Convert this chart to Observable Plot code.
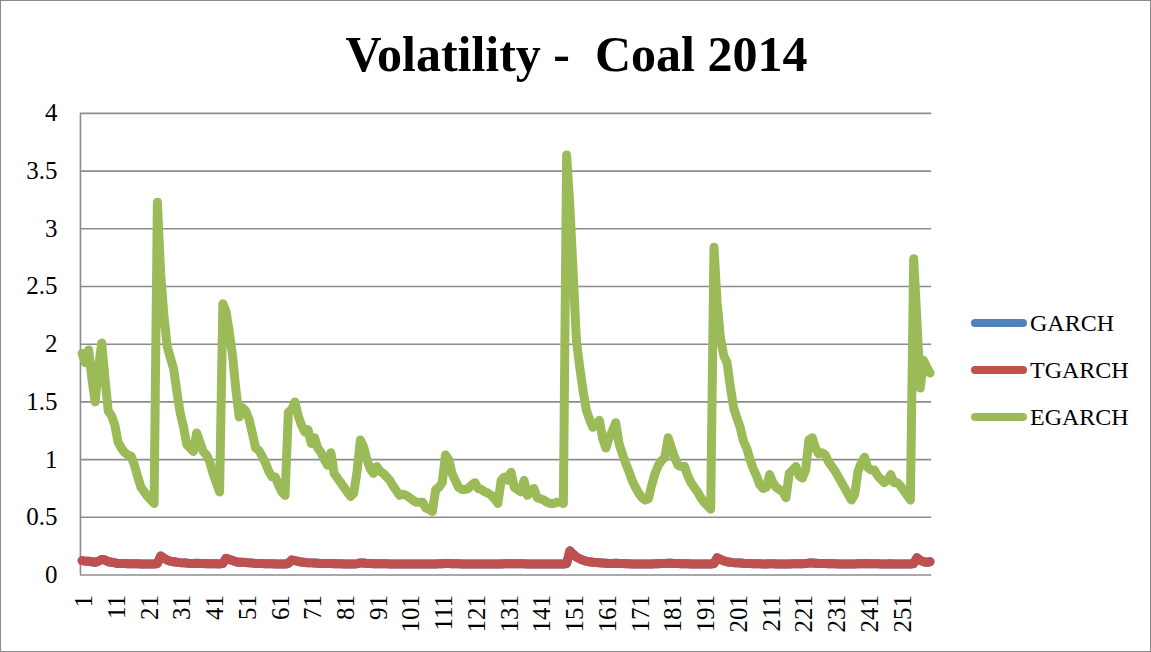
<!DOCTYPE html>
<html>
<head>
<meta charset="utf-8">
<script src="https://cdn.jsdelivr.net/npm/d3@7"></script>
<script src="https://cdn.jsdelivr.net/npm/@observablehq/plot@0.6"></script>
<style>
  html, body { margin: 0; padding: 0; background: #fff; }
  #chart { position: relative; width: 1151px; height: 652px; box-sizing: border-box; border: 1px solid #8a8a8a; overflow: hidden; font-family: "Liberation Serif", serif; }
  #title { position: absolute; left: 0; width: 1151px; top: 24px; text-align: center; font-weight: bold; font-size: 50px; white-space: pre; color: #000; }
  #plot { position: absolute; left: -1px; top: -1px; }
  .leg { position: absolute; left: 970px; height: 30px; display: flex; align-items: center; font-size: 24px; color: #000; }
  .sw { width: 56px; height: 8px; border-radius: 4px; margin-right: 3px; }
</style>
</head>
<body>
<div id="chart">
  <div id="plot"></div>
  <div id="title">Volatility -  Coal 2014</div>
  <div id="legend"></div>
</div>
<script>
const seriesNames = ["GARCH", "TGARCH", "EGARCH"];
const seriesColors = ["#4F81BD", "#C0504D", "#9BBB59"];
const xTicks = [1, 11, 21, 31, 41, 51, 61, 71, 81, 91, 101, 111, 121, 131, 141, 151, 161, 171, 181, 191, 201, 211, 221, 231, 241, 251];
const yTicks = [0, 0.5, 1, 1.5, 2, 2.5, 3, 3.5, 4];

const egarch = [
  1.92,1.84,1.95,1.70,1.50,1.80,2.01,1.70,1.42,1.38,
  1.30,1.15,1.10,1.06,1.04,1.03,0.95,0.85,0.76,0.72,
  0.68,0.65,0.62,3.23,2.61,2.25,1.98,1.88,1.78,1.58,
  1.40,1.28,1.13,1.10,1.07,1.23,1.15,1.07,1.04,0.98,
  0.88,0.80,0.72,2.35,2.28,2.10,1.89,1.60,1.37,1.45,
  1.42,1.35,1.23,1.10,1.08,1.03,0.97,0.90,0.85,0.85,
  0.78,0.72,0.69,1.41,1.43,1.50,1.38,1.30,1.24,1.26,
  1.14,1.19,1.10,1.06,1.00,0.95,1.06,0.88,0.84,0.80,
  0.76,0.72,0.68,0.71,0.90,1.17,1.11,1.00,0.92,0.88,
  0.94,0.90,0.88,0.85,0.82,0.77,0.73,0.69,0.70,0.69,
  0.67,0.65,0.63,0.63,0.63,0.58,0.57,0.55,0.74,0.76,
  0.80,1.04,1.00,0.88,0.82,0.76,0.74,0.74,0.75,0.78,
  0.80,0.75,0.74,0.72,0.71,0.69,0.66,0.62,0.82,0.85,
  0.82,0.89,0.76,0.74,0.72,0.82,0.69,0.72,0.75,0.67,
  0.66,0.65,0.63,0.62,0.62,0.63,0.63,0.62,3.64,3.19,
  2.61,2.03,1.80,1.60,1.43,1.35,1.28,1.30,1.34,1.18,
  1.10,1.19,1.25,1.32,1.14,1.05,0.97,0.90,0.82,0.76,
  0.71,0.67,0.65,0.66,0.78,0.88,0.95,0.99,1.02,1.19,
  1.10,1.02,0.95,0.94,0.94,0.86,0.80,0.76,0.72,0.67,
  0.63,0.60,0.57,2.84,2.35,2.05,1.90,1.84,1.63,1.45,
  1.36,1.28,1.16,1.10,1.00,0.92,0.86,0.78,0.75,0.76,
  0.87,0.80,0.76,0.74,0.72,0.67,0.88,0.91,0.94,0.86,
  0.84,0.91,1.17,1.19,1.10,1.05,1.06,1.04,0.98,0.94,
  0.90,0.85,0.80,0.75,0.70,0.65,0.70,0.90,0.97,1.02,
  0.93,0.91,0.91,0.86,0.83,0.80,0.82,0.87,0.80,0.80,
  0.77,0.73,0.69,0.65,2.74,2.20,1.62,1.86,1.80,1.75
];

const tgarch = [
  0.125,0.12,0.12,0.115,0.11,0.12,0.135,0.13,0.115,0.11,
  0.105,0.10,0.10,0.10,0.098,0.098,0.097,0.097,0.096,0.096,
  0.096,0.095,0.095,0.10,0.165,0.145,0.13,0.12,0.115,0.11,
  0.107,0.105,0.103,0.10,0.10,0.102,0.10,0.10,0.098,0.098,
  0.097,0.097,0.096,0.10,0.145,0.135,0.125,0.115,0.11,0.11,
  0.108,0.105,0.103,0.10,0.10,0.099,0.098,0.097,0.097,0.096,
  0.096,0.096,0.095,0.10,0.13,0.125,0.118,0.112,0.108,0.106,
  0.105,0.104,0.102,0.10,0.10,0.099,0.10,0.098,0.097,0.097,
  0.096,0.096,0.095,0.095,0.097,0.105,0.104,0.10,0.099,0.098,
  0.098,0.097,0.097,0.097,0.096,0.096,0.096,0.096,0.095,0.095,
  0.095,0.095,0.095,0.095,0.095,0.095,0.095,0.095,0.095,0.097,
  0.097,0.10,0.10,0.098,0.097,0.097,0.096,0.096,0.096,0.096,
  0.096,0.096,0.096,0.095,0.095,0.095,0.095,0.095,0.096,0.098,
  0.098,0.10,0.098,0.097,0.097,0.097,0.096,0.096,0.096,0.095,
  0.095,0.095,0.095,0.095,0.095,0.095,0.095,0.095,0.10,0.21,
  0.18,0.155,0.14,0.128,0.12,0.115,0.11,0.108,0.106,0.104,
  0.102,0.10,0.10,0.102,0.10,0.099,0.098,0.097,0.096,0.096,
  0.095,0.095,0.095,0.095,0.096,0.097,0.098,0.099,0.10,0.102,
  0.101,0.10,0.099,0.098,0.098,0.097,0.096,0.096,0.095,0.095,
  0.095,0.095,0.095,0.10,0.15,0.135,0.122,0.115,0.11,0.107,
  0.105,0.103,0.101,0.10,0.099,0.098,0.097,0.097,0.096,0.096,
  0.097,0.097,0.096,0.096,0.095,0.095,0.096,0.097,0.097,0.097,
  0.098,0.10,0.103,0.104,0.102,0.10,0.10,0.099,0.098,0.097,
  0.097,0.096,0.096,0.095,0.095,0.095,0.096,0.097,0.098,0.099,
  0.098,0.098,0.097,0.097,0.096,0.096,0.096,0.097,0.096,0.096,
  0.095,0.095,0.095,0.095,0.10,0.15,0.128,0.115,0.11,0.115
];

// GARCH coincides with TGARCH in the picture (fully hidden beneath it)
const garch = tgarch.slice();

const seriesValues = [garch, tgarch, egarch];
const N = egarch.length;

const lineMarks = seriesValues.map((vals, k) =>
  Plot.lineY(vals, {
    x: (d, i) => i + 1,
    y: d => d,
    stroke: seriesColors[k],
    strokeWidth: 9,
    strokeLinejoin: "round",
    strokeLinecap: "round"
  })
);

const chart = Plot.plot({
  width: 1151,
  height: 652,
  marginLeft: 80,
  marginRight: 219,
  marginTop: 113,
  marginBottom: 77,
  style: { fontFamily: "Liberation Serif, serif", fontSize: "25px", color: "#000", background: "transparent" },
  x: { type: "linear", domain: [0.5, N + 0.5], label: null },
  y: { domain: [0, 4], label: null },
  marks: [
    Plot.ruleY(yTicks, { stroke: "#8c8c8c", strokeWidth: 1.6 }),
    Plot.ruleX([0.5], { stroke: "#8c8c8c", strokeWidth: 1.6 }),
    Plot.axisY({ ticks: yTicks, tickFormat: d => String(d), tickSize: 0, tickPadding: 23, fontSize: 25 }),
    Plot.axisX({ ticks: xTicks, tickFormat: d => String(d), tickRotate: -90, tickSize: 0, tickPadding: 20, fontSize: 25, dx: 2 }),
    ...lineMarks
  ]
});
document.getElementById("plot").appendChild(chart);

const legend = document.getElementById("legend");
const legendTops = [307, 354, 401];
seriesNames.forEach((name, k) => {
  const row = document.createElement("div");
  row.className = "leg";
  row.style.top = legendTops[k] + "px";
  const sw = document.createElement("div");
  sw.className = "sw";
  sw.style.background = seriesColors[k];
  const lab = document.createElement("span");
  lab.textContent = name;
  row.appendChild(sw);
  row.appendChild(lab);
  legend.appendChild(row);
});
</script>
</body>
</html>
